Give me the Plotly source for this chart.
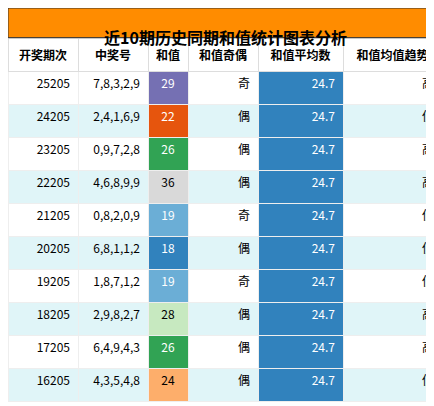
import plotly.graph_objects as go

periods = ["25205","24205","23205","22205","21205","20205","19205","18205","17205","16205"]
numbers = ["7,8,3,2,9","2,4,1,6,9","0,9,7,2,8","4,6,8,9,9","0,8,2,0,9","6,8,1,1,2","1,8,7,1,2","2,9,8,2,7","6,4,9,4,3","4,3,5,4,8"]
sums = [29,22,26,36,19,18,19,28,26,24]
parity = ["奇","偶","偶","偶","奇","偶","奇","偶","偶","偶"]
avg = ["24.7"]*10
trend = ["高","低","高","高","低","低","低","高","高","低"]
headers = ["开奖期次","中奖号","和值","和值奇偶","和值平均数","和值均值趋势"]

sum_colors = {29:"#7570b3",22:"#e6550d",26:"#31a354",36:"#d9d9d9",19:"#6baed6",18:"#3182bd",28:"#c7e9c0",24:"#fdae6b"}
sum_font = {36:"black",28:"black",24:"black"}
row_bg = ["white" if i%2==0 else "#e0f5f8" for i in range(10)]

fig = go.Figure(go.Table(
    columnwidth=[70,70,40,70,85,99],
    header=dict(values=[f"<b>{h}</b>" for h in headers], fill_color="white",
                font=dict(size=12,color="black",family="Noto Sans CJK SC"),
                align="center", height=33, line=dict(color="#dddddd",width=1)),
    cells=dict(values=[periods,numbers,sums,parity,avg,trend],
               fill_color=[row_bg,row_bg,[sum_colors[s] for s in sums],row_bg,["#3182bd"]*10,row_bg],
               font=dict(size=12,family="Noto Sans CJK SC",
                         color=[["black"]*10,["black"]*10,[sum_font.get(s,"white") for s in sums],["black"]*10,["white"]*10,["black"]*10]),
               align=["right","right","center","right","right","right"],
               height=33, line=dict(color="#eeeeee",width=1)),
    domain=dict(x=[0,1],y=[0,0.925])
))
fig.add_shape(type="rect",xref="paper",yref="paper",x0=0,x1=1,y0=0.927,y1=1,
              fillcolor="#ff8c00",line=dict(color="#333333",width=1))
fig.add_annotation(text="<b>近10期历史同期和值统计图表分析</b>",xref="paper",yref="paper",
                   x=0.5,y=0.963,showarrow=False,font=dict(size=16,color="black",family="Noto Sans CJK SC"))
fig.update_layout(width=434,height=406,margin=dict(l=0,r=0,t=0,b=0),paper_bgcolor="white")
fig.write_html("out.html")
